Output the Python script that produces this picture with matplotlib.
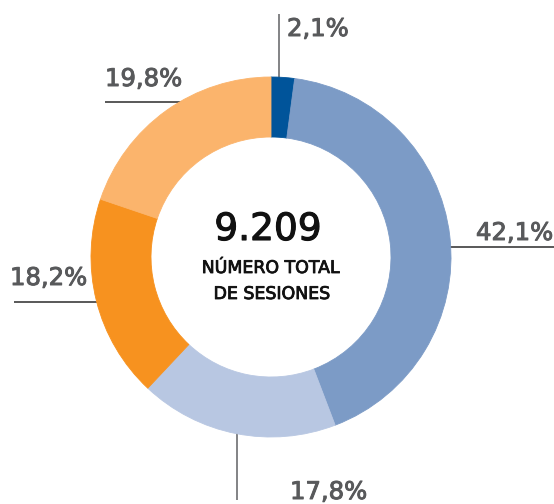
import matplotlib
matplotlib.use("Agg")
import matplotlib.pyplot as plt
import matplotlib.patheffects as pe

# ---- data ----
shares = [2.1, 42.1, 17.8, 18.2, 19.8]
share_labels = ["2,1%", "42,1%", "17,8%", "18,2%", "19,8%"]
colors = ["#00549a", "#7c9bc6", "#b8c7e2", "#f7921f", "#fbb46c"]
total_text = "9.209"
subtitle_lines = ["NÚMERO TOTAL", "DE SESIONES"]

# ---- layout (pixel coordinates, y measured from bottom) ----
W, H = 554, 504
CX, CY, R, RING = 271, 247, 180, 60
# leader lines: (x0, y0, x1, y1), label: (x, y, ha)
leaders = [
    ((279, 490, 279, 420), (287, 468, "left"), "#6d6e71"),
    ((440, 257, 554, 257), (553, 264, "right"), "#3c3c3c"),
    ((237, 80, 237, 4), (290, 5, "left"), "#6d6e71"),
    ((14, 202, 105, 202), (10, 219, "left"), "#3c3c3c"),
    ((105, 402, 185, 402), (105, 418, "left"), "#3c3c3c"),
]

fig = plt.figure(figsize=(W / 100, H / 100), dpi=100)
ax = fig.add_axes([0, 0, 1, 1])

for (x0, y0, x1, y1), _, lc in leaders:
    ax.plot([x0, x1], [y0, y1], color=lc, lw=1.2, zorder=1, solid_capstyle="butt")

wedges, _ = ax.pie(shares, colors=colors, startangle=90, counterclock=False,
                   center=(CX, CY), radius=R,
                   wedgeprops=dict(width=RING, linewidth=0.6))
for w, c in zip(wedges, colors):
    w.set_edgecolor(c)
    w.set_zorder(2)

label_color = "#58595b"
for (_, (tx, ty, ha), _), lab in zip(leaders, share_labels):
    ax.text(tx, ty, lab, ha=ha, va="baseline", fontsize=17.5,
            color=label_color, family="DejaVu Sans", zorder=3,
            path_effects=[pe.withStroke(linewidth=0.7, foreground=label_color)])

ax.text(CX - 3, 264, total_text, ha="center", va="baseline", fontsize=27,
        color="#111111", family="DejaVu Sans",
        path_effects=[pe.withStroke(linewidth=0.8, foreground="#111111")])
ax.text(CX, 231, subtitle_lines[0], ha="center", va="baseline", fontsize=12.5,
        color="#111111", family="DejaVu Sans",
        path_effects=[pe.withStroke(linewidth=0.6, foreground="#111111")])
ax.text(CX + 1, 205, subtitle_lines[1], ha="center", va="baseline", fontsize=12.5,
        color="#111111", family="DejaVu Sans",
        path_effects=[pe.withStroke(linewidth=0.6, foreground="#111111")])

ax.set_xlim(0, W)
ax.set_ylim(0, H)
ax.set_aspect("equal")
ax.axis("off")

fig.savefig("out.png", dpi=100, facecolor="white")
